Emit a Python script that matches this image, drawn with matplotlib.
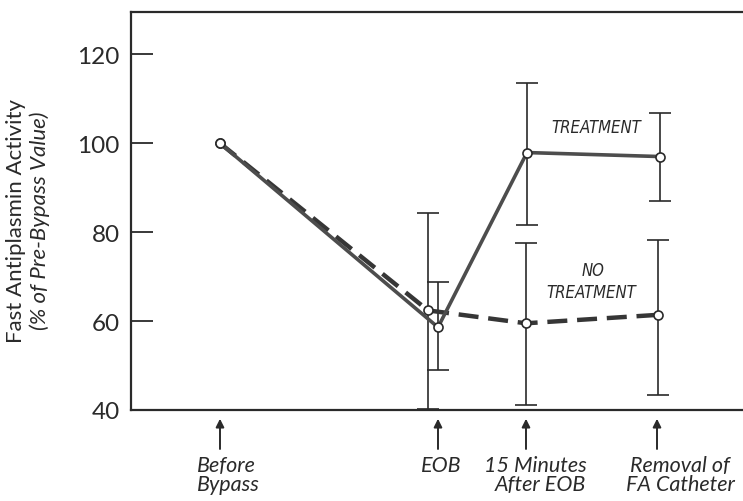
import matplotlib
matplotlib.use("Agg")
import matplotlib.pyplot as plt

# Sampling events (position along the procedure timeline, arbitrary units)
stage_labels = ["Before\nBypass", "EOB", "15 Minutes\nAfter EOB", "Removal of\nFA Catheter"]
stage_x = [22.0, 43.8, 52.6, 65.7]
label_x = [22.8, 44.1, 53.5, 68.0]
label_align = ["left", "center", "right", "center"]

# Fast antiplasmin activity, % of pre-bypass value
treat_x = [22.0, 43.8, 52.7, 66.0]
treat_y = [100.0, 58.6, 97.9, 97.0]
treat_hi = [None, 68.8, 113.5, 106.7]
treat_lo = [None, 48.9, 81.7, 87.0]

notreat_x = [22.0, 42.8, 52.6, 65.8]
notreat_y = [100.0, 62.4, 59.5, 61.4]
notreat_hi = [None, 84.4, 77.6, 78.3]
notreat_lo = [None, 40.2, 41.1, 43.4]

yticks = [40, 60, 80, 100, 120]

ink = "#2a2a2a"
line_col = "#4d4d4d"
font = "Lato"

fig = plt.figure(figsize=(7.43, 5.02), dpi=100)
ax = fig.add_axes([0.1763, 0.1813, 0.8237, 0.7927])
ax.set_xlim(13.1, 74.3)
ax.set_ylim(40, 129.5)

# Error bars (thin whiskers with caps)
def whiskers(xs, ys, hi, lo):
    for x, y, h, l in zip(xs, ys, hi, lo):
        if h is None:
            continue
        ax.errorbar([x], [y], yerr=[[y - l], [h - y]], fmt="none",
                    ecolor=ink, elinewidth=1.2, capsize=8, capthick=1.2, zorder=2)

whiskers(treat_x, treat_y, treat_hi, treat_lo)
whiskers(notreat_x, notreat_y, notreat_hi, notreat_lo)

# Series
ax.plot(notreat_x, notreat_y, color="#363636", lw=3.2, ls=(0, (4.5, 2.2)),
        marker="o", ms=6.5, mfc="white", mec=ink, mew=1.2, zorder=3)
ax.plot(treat_x, treat_y, color=line_col, lw=2.6, ls="-",
        marker="o", ms=6.5, mfc="white", mec=ink, mew=1.2, zorder=4)

lab_kw = dict(fontsize=12, style="italic", family="DejaVu Sans",
              fontstretch="condensed", color=ink, ha="center", va="center")
ax.text(59.6, 103.7, "TREATMENT", **lab_kw)
ax.text(59.3, 71.5, "NO", **lab_kw)
ax.text(59.1, 66.5, "TREATMENT", **lab_kw)

# Axes styling
ax.spines["right"].set_visible(False)
for side in ("left", "top", "bottom"):
    ax.spines[side].set_linewidth(1.6)
    ax.spines[side].set_color(ink)

ax.set_yticks(yticks)
ax.set_yticklabels([str(v) for v in yticks], fontsize=17.5, family=font, color=ink)
ax.tick_params(axis="y", direction="in", length=16, width=1.3, color=ink, pad=8)
ax.set_xticks([])

# Event arrows and labels under the axis
for x, tx, lab, al in zip(stage_x, label_x, stage_labels, label_align):
    ax.annotate("", xy=(x, -0.022), xytext=(x, -0.098),
                xycoords=("data", "axes fraction"), textcoords=("data", "axes fraction"),
                arrowprops=dict(arrowstyle="-|>", color=ink, lw=1.4,
                                mutation_scale=12, shrinkA=0, shrinkB=0),
                annotation_clip=False)
    ax.text(tx, -0.112, lab, transform=ax.get_xaxis_transform(),
            fontsize=15.5, style="italic", family=font, color=ink,
            ha="center", va="top", multialignment=al, linespacing=0.95,
            clip_on=False)

# Two-line y-axis title: upright first line, italic second line
fig.text(0.022, 0.559, "Fast Antiplasmin Activity", rotation=90, fontsize=16,
         family=font, color=ink, ha="center", va="center")
fig.text(0.053, 0.56, "(% of Pre-Bypass Value)", rotation=90, fontsize=16,
         family=font, style="italic", color=ink, ha="center", va="center")

fig.savefig("out.png", dpi=100)
